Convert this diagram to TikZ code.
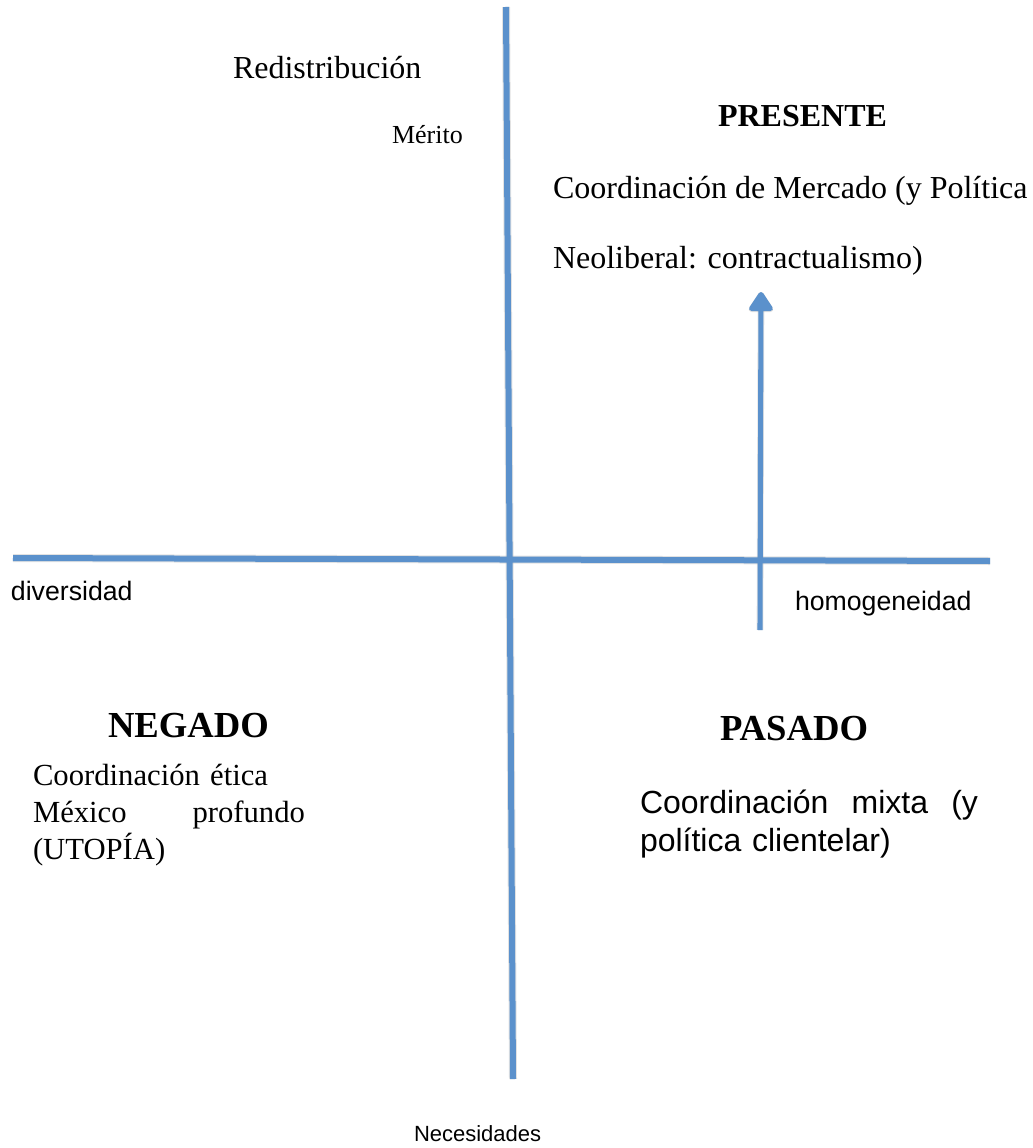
\documentclass[tikz,border=0pt]{standalone}
\usepackage{fontspec}
\setmainfont{Liberation Serif}
\newfontfamily\arialfont{Liberation Sans}
\usetikzlibrary{arrows.meta}

\definecolor{axisblue}{RGB}{91,145,204}
\definecolor{shadowgray}{RGB}{150,150,150}

\tikzset{
  axisline/.style={draw=axisblue, line width=4.5pt, line cap=butt},
  axisshadow/.style={draw=shadowgray, line width=6pt, opacity=0.28, line cap=butt},
  trendarrow/.style={draw=axisblue, line width=3.8pt,
    -{Triangle[round, width=20pt, length=16pt]}},
  trendshadow/.style={draw=shadowgray, line width=5pt, opacity=0.28,
    -{Triangle[round, width=21pt, length=17pt]}},
  label/.style={inner sep=0pt, outer sep=0pt},
  serifmid/.style={label, font=\fontsize{24}{29}\selectfont},
  serifsmall/.style={label, font=\fontsize{19.5}{23}\selectfont},
  quadtitle/.style={label, font=\fontsize{27.5}{33}\selectfont\bfseries},
  presentetitle/.style={label, font=\fontsize{24}{29}\selectfont\bfseries},
  sanslabel/.style={label, font=\arialfont\fontsize{20}{24}\selectfont},
  sanssmall/.style={label, font=\arialfont\fontsize{16.5}{20}\selectfont},
}

\begin{document}
\begin{tikzpicture}[x=0.75pt, y=-0.75pt]
  \useasboundingbox (0,0) rectangle (1032,1148);

  % axis end points
  \coordinate (vtop) at (506,7);
  \coordinate (vbot) at (513,1079);
  \coordinate (hleft) at (13,558);
  \coordinate (hright) at (990,561);
  % arrow end points
  \coordinate (arrfrom) at (760,630);
  \coordinate (arrto) at (761,292);

  % soft drop shadows under the lines
  \begin{scope}[shift={(2.5,3.5)}]
    \draw[axisshadow] (vtop) -- (vbot);
    \draw[axisshadow] (hleft) -- (hright);
    \draw[trendshadow] (arrfrom) -- (arrto);
  \end{scope}

  % axes
  \draw[axisline] (vtop) -- (vbot);
  \draw[axisline] (hleft) -- (hright);

  % upward arrow
  \draw[trendarrow] (arrfrom) -- (arrto);

  % upper left
  \node[serifmid, anchor=base west] (redis) at (233,79) {Redistribución};
  \node[serifsmall, anchor=base west] (merito) at (392,144) {Mérito};

  % upper right
  \node[presentetitle, anchor=base west] (presente) at (718,127) {PRESENTE};
  \node[serifmid, anchor=base west] (mercado) at (553,199) {Coordinación de Mercado (y Política};
  \node[serifmid, anchor=base west] (neolib) at (553,268) {Neoliberal: contractualismo)};

  % axis labels
  \node[sanslabel, anchor=base west] (divers) at (11,600) {diversidad};
  \node[sanslabel, anchor=base west] (homog) at (795,610) {homogeneidad};
  \node[sanssmall, anchor=base west] (neces) at (414,1141) {Necesidades};

  % lower left
  \node[quadtitle, anchor=base west] (negado) at (108,737) {NEGADO};
  \node[label, anchor=base west, text width=204pt, align=left,
        font=\fontsize{23}{28}\selectfont] (etica) at (33,785)
    {Coordinación ética\\México\hfill profundo\\(UTOPÍA)};

  % lower right
  \node[quadtitle, anchor=base west] (pasado) at (720,740) {PASADO};
  \node[label, anchor=base west, text width=253.5pt, align=left,
        font=\arialfont\fontsize{24}{29}\selectfont] (mixta) at (640,813)
    {Coordinación\hfill mixta\hfill (y\\política clientelar)};
\end{tikzpicture}
\end{document}
